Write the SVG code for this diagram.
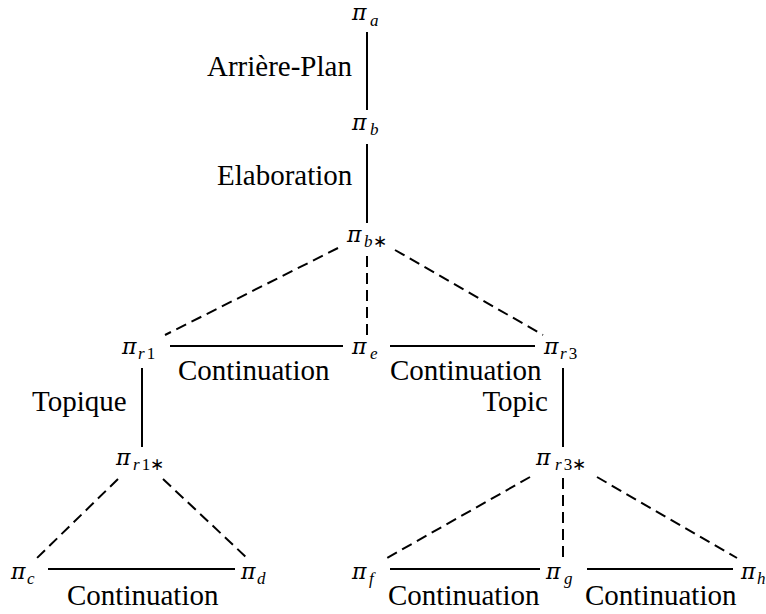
<svg xmlns="http://www.w3.org/2000/svg" width="766" height="614" viewBox="0 0 766 614">
<style>
.pi{font-style:italic;font-size:22px}
.sub{font-style:italic;font-size:17px}
.up{font-style:normal}
.lbl{font-size:29px}
.s{stroke:#000;stroke-width:2;fill:none}
.d{stroke:#000;stroke-width:2;fill:none;stroke-dasharray:11 6}
</style>
<rect width="766" height="614" fill="#fff"/>
<g id="connectors">
<line class="s" x1="367" y1="32" x2="367" y2="110"/>
<line class="s" x1="367" y1="144" x2="367" y2="223"/>
<line class="d" x1="338" y1="248" x2="165" y2="335"/>
<line class="d" x1="367" y1="256" x2="367" y2="335"/>
<line class="d" x1="395" y1="250" x2="543" y2="335"/>
<line class="s" x1="170" y1="346" x2="343" y2="346"/>
<line class="s" x1="390" y1="346" x2="535" y2="346"/>
<line class="s" x1="142" y1="368" x2="142" y2="447"/>
<line class="s" x1="563" y1="368" x2="563" y2="447"/>
<line class="d" x1="118" y1="479" x2="37" y2="558"/>
<line class="d" x1="163" y1="479" x2="247" y2="558"/>
<line class="s" x1="48" y1="569" x2="235" y2="569"/>
<line class="d" x1="530" y1="477" x2="387" y2="558"/>
<line class="d" x1="563" y1="478" x2="563" y2="561"/>
<line class="d" x1="597" y1="477" x2="737" y2="558"/>
<line class="s" x1="390" y1="569" x2="540" y2="569"/>
<line class="s" x1="587" y1="569" x2="733" y2="569"/>
</g>
<g id="labels">
<text class="lbl" font-family="Liberation Serif" x="207" y="76">Arrière-Plan</text>
<text class="lbl" font-family="Times New Roman" x="217" y="185">Elaboration</text>
<text class="lbl" font-family="serif" x="178" y="380">Continuation</text>
<text class="lbl" font-family="Times New Roman" x="390" y="380">Continuation</text>
<text class="lbl" font-family="Liberation Serif" x="32" y="411">Topique</text>
<text class="lbl" font-family="Liberation Serif" x="548" y="411" text-anchor="end">Topic</text>
<text class="lbl" font-family="Times" x="67" y="605">Continuation</text>
<text class="lbl" font-family="Liberation Serif" x="388" y="605">Continuation</text>
<text class="lbl" font-family="Times New Roman" x="585" y="605">Continuation</text>
</g>
<g id="node-a"><text class="pi" font-family="DejaVu Serif" x="352" y="20">π</text><text class="sub" font-family="Liberation Serif" x="370" y="26">a</text></g>
<g id="node-b"><text class="pi" font-family="DejaVu Serif" x="352" y="130">π</text><text class="sub" font-family="Liberation Serif" x="370" y="135">b</text></g>
<g id="node-bstar"><text class="pi" font-family="DejaVu Serif" x="347" y="242">π</text><text class="sub" font-family="Liberation Serif" x="364" y="247">b<tspan class="up">∗</tspan></text></g>
<g id="node-r1"><text class="pi" font-family="DejaVu Serif" x="122" y="354">π</text><text class="sub" font-family="Liberation Serif" x="138" y="359">r<tspan class="up" dx="2">1</tspan></text></g>
<g id="node-e"><text class="pi" font-family="DejaVu Serif" x="352" y="354">π</text><text class="sub" font-family="Liberation Serif" x="370" y="359">e</text></g>
<g id="node-r3"><text class="pi" font-family="DejaVu Serif" x="544" y="354">π</text><text class="sub" font-family="Liberation Serif" x="560" y="359">r<tspan class="up" dx="2">3</tspan></text></g>
<g id="node-r1star"><text class="pi" font-family="DejaVu Serif" x="116" y="465">π</text><text class="sub" font-family="Liberation Serif" x="133" y="470">r<tspan class="up" dx="2">1∗</tspan></text></g>
<g id="node-r3star"><text class="pi" font-family="DejaVu Serif" x="536" y="465">π</text><text class="sub" font-family="Liberation Serif" x="555" y="470">r<tspan class="up" dx="2">3∗</tspan></text></g>
<g id="node-c"><text class="pi" font-family="DejaVu Serif" x="11" y="579">π</text><text class="sub" font-family="Liberation Serif" x="27" y="584">c</text></g>
<g id="node-d"><text class="pi" font-family="DejaVu Serif" x="241" y="579">π</text><text class="sub" font-family="Liberation Serif" x="257" y="584">d</text></g>
<g id="node-f"><text class="pi" font-family="DejaVu Serif" x="352" y="579">π</text><text class="sub" font-family="Liberation Serif" x="369" y="584">f</text></g>
<g id="node-g"><text class="pi" font-family="DejaVu Serif" x="546" y="579">π</text><text class="sub" font-family="Liberation Serif" x="564" y="584">g</text></g>
<g id="node-h"><text class="pi" font-family="DejaVu Serif" x="741" y="579">π</text><text class="sub" font-family="Liberation Serif" x="757" y="584">h</text></g>
</svg>
